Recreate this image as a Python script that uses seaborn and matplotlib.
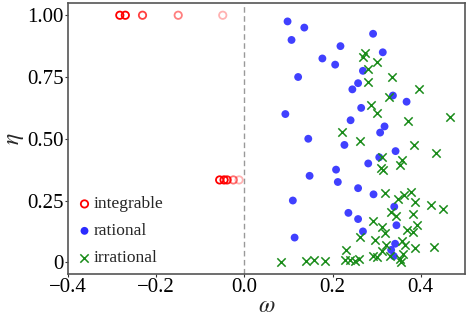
import numpy as np
import pandas as pd
import matplotlib
matplotlib.use("Agg")
import matplotlib.pyplot as plt
import seaborn as sns

# integrable (open red circles), two rows of eta
integ_omega = [-0.2825, -0.270, -0.231, -0.150, -0.049,
               -0.056, -0.046, -0.039, -0.025, -0.012]
integ_eta = [1.0, 1.0, 1.0, 1.0, 1.0,
             1/3, 1/3, 1/3, 1/3, 1/3]
integ_alpha = [1.0, 1.0, 0.75, 0.5, 0.3,
               1.0, 1.0, 0.9, 0.55, 0.3]

# rational (blue dots)
rat_eta = [0.975, 0.95, 0.925, 0.9, 0.875, 0.85, 0.825, 0.8, 0.775, 0.75,
           0.725, 0.7, 0.675, 0.65, 0.625, 0.6, 0.575, 0.55, 0.525, 0.5,
           0.475, 0.45, 0.425, 0.4, 0.375, 0.35, 0.325, 0.3, 0.275, 0.25,
           0.225, 0.2, 0.175, 0.15, 0.125, 0.1, 0.075, 0.05, 0.025]
rat_omega = [0.098, 0.136, 0.292, 0.107, 0.218, 0.314, 0.177, 0.206, 0.269, 0.122,
             0.258, 0.245, 0.337, 0.368, 0.265, 0.093, 0.241, 0.318, 0.308, 0.145,
             0.227, 0.343, 0.306, 0.281, 0.208, 0.148, 0.212, 0.258, 0.293, 0.110,
             0.340, 0.236, 0.258, 0.345, 0.269, 0.114, 0.342, 0.333, 0.339]

# irrational (green crosses)
irr_omega = [0.273, 0.269, 0.300, 0.281, 0.335, 0.280, 0.397, 0.327, 0.288, 0.300,
             0.466, 0.371, 0.222, 0.263, 0.385, 0.435, 0.313, 0.358, 0.353, 0.310,
             0.315, 0.318, 0.349, 0.363, 0.377, 0.388, 0.423, 0.451, 0.332, 0.343,
             0.383, 0.292, 0.313, 0.392, 0.369, 0.383, 0.318, 0.263, 0.297, 0.358,
             0.322, 0.364, 0.388, 0.430, 0.230, 0.313, 0.360, 0.292, 0.301, 0.330,
             0.352, 0.083, 0.140, 0.159, 0.182, 0.228, 0.239, 0.250, 0.260, 0.356]
irr_eta = [0.847, 0.830, 0.810, 0.783, 0.750, 0.728, 0.703, 0.671, 0.635, 0.605,
           0.587, 0.571, 0.526, 0.490, 0.475, 0.444, 0.425, 0.412, 0.394, 0.383,
           0.372, 0.281, 0.256, 0.272, 0.285, 0.244, 0.231, 0.215, 0.205, 0.189,
           0.196, 0.169, 0.142, 0.150, 0.130, 0.121, 0.118, 0.104, 0.090, 0.088,
           0.071, 0.069, 0.059, 0.062, 0.051, 0.046, 0.035, 0.024, 0.021, 0.024,
           0.015, 0.003, 0.004, 0.008, 0.006, 0.008, 0.008, 0.007, 0.013, 0.002]

sns.set_style("white")
plt.rcParams["font.family"] = ["Liberation Serif", "DejaVu Serif"]
plt.rcParams["mathtext.fontset"] = "stix"

fig, ax = plt.subplots(figsize=(4.69, 3.21), dpi=100)
fig.subplots_adjust(left=0.145, right=0.991, top=0.991, bottom=0.146)

ax.axvline(0, color="#999999", linestyle="--", linewidth=1, dashes=(4, 2.5), zorder=0)

df_int = pd.DataFrame({"omega": integ_omega, "eta": integ_eta, "alpha": integ_alpha})
edge = [(1.0, 0.0, 0.0, a) for a in df_int["alpha"]]
sns.scatterplot(data=df_int, x="omega", y="eta", ax=ax, marker="o", s=28,
                facecolors="none", edgecolors=edge, linewidth=1.3, label="integrable")

df_rat = pd.DataFrame({"omega": rat_omega, "eta": rat_eta})
sns.scatterplot(data=df_rat, x="omega", y="eta", ax=ax, marker="o", s=32,
                color="#2b2bff", edgecolor="none", alpha=0.9, label="rational")

df_irr = pd.DataFrame({"omega": irr_omega, "eta": irr_eta})
sns.scatterplot(data=df_irr, x="omega", y="eta", ax=ax, marker="x", s=36,
                color="#1a8c1a", linewidth=1.1, label="irrational")

ax.set_xlim(-0.4, 0.5)
ax.set_ylim(-0.048, 1.05)
ax.set_xticks([-0.4, -0.2, 0.0, 0.2, 0.4])
ax.set_xticklabels(["\u22120.4", "\u22120.2", "0.0", "0.2", "0.4"])
ax.set_yticks([0, 0.25, 0.5, 0.75, 1.0])
ax.set_yticklabels(["0", "0.25", "0.50", "0.75", "1.00"])
ax.tick_params(labelsize=15, length=2, width=0.8, direction="out", pad=1,
               left=True, bottom=True, colors="#333333", labelcolor="black")

ax.set_xlabel(r"$\omega$", fontsize=17, labelpad=-1)
ax.set_ylabel(r"$\eta$", fontsize=17, labelpad=1)

for s in ax.spines.values():
    s.set_color("#555555")
    s.set_linewidth(1.2)

leg = ax.legend(loc="lower left", frameon=False, fontsize=12.5, handletextpad=0.05,
                handlelength=1.0, borderaxespad=0.05, labelspacing=0.62,
                bbox_to_anchor=(0.0, 0.0))
for h in leg.legend_handles:
    h.set_alpha(1)

fig.savefig("out.png", dpi=100)
